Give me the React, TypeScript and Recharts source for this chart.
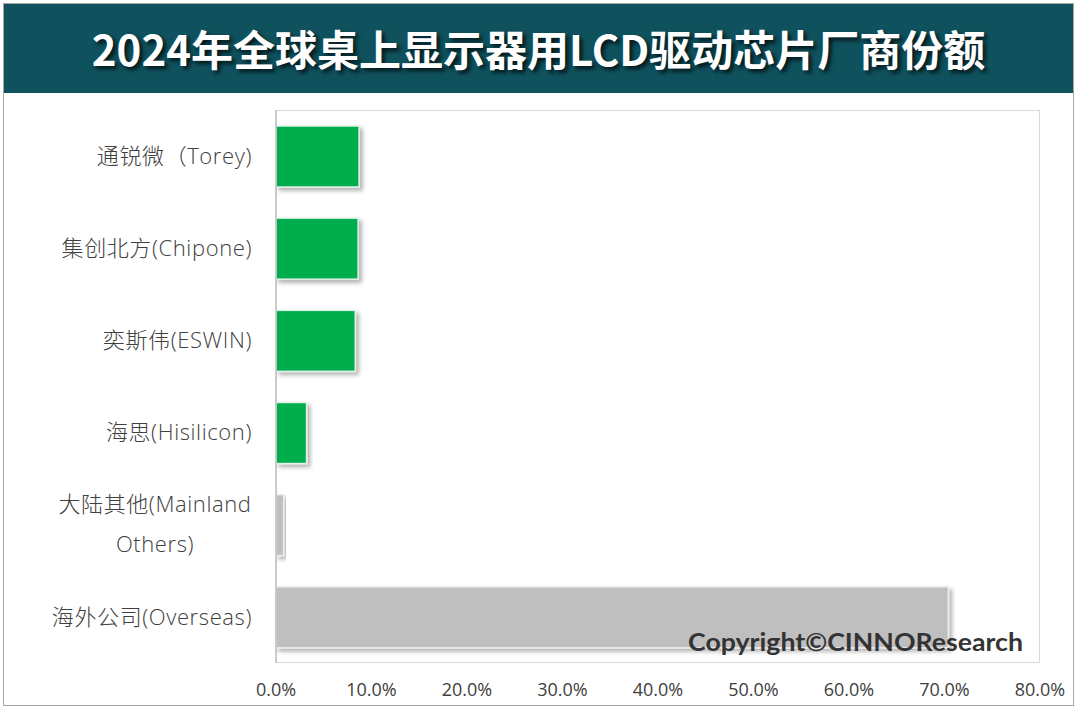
import React from "react";
import { BarChart, Bar, XAxis, YAxis, Cell } from "recharts";

// vendor names (a "\n" breaks a label onto two lines, as in the source)
const vendors = [
  "通锐微（Torey)",
  "集创北方(Chipone)",
  "奕斯伟(ESWIN)",
  "海思(Hisilicon)",
  "大陆其他(Mainland\nOthers)",
  "海外公司(Overseas)",
];
// share of 2024 global desktop monitor LCD driver IC shipments, %
const shares = [8.7, 8.6, 8.3, 3.2, 0.8, 70.4];
// named mainland vendors are highlighted in green, the rest in gray
const highlighted = [true, true, true, true, false, false];
const xTicks = [0, 10, 20, 30, 40, 50, 60, 70, 80];

const TITLE = "2024年全球桌上显示器用LCD驱动芯片厂商份额";
const COPYRIGHT = "Copyright©CINNOResearch";

const GREEN = "#00ad4e";
const GRAY = "#bfbfbf";
const TEXT = "#404040";
const FONT = "'Open Sans', 'Noto Sans CJK SC', sans-serif";

const data = vendors.map((name, i) => ({ name, share: shares[i], hi: highlighted[i] }));

function CategoryTick(props: any) {
  const { x, y, payload } = props;
  const lines = String(payload.value).split("\n");
  const lh = 40;
  const y0 = y - ((lines.length - 1) * lh) / 2;
  const multi = lines.length > 1;
  return (
    <g>
      {lines.map((l, i) => (
        <text
          key={i}
          x={multi ? x - 97 : x}
          y={y0 + i * lh}
          dy="0.35em"
          textAnchor={multi ? "middle" : "end"}
          fill={TEXT}
          fontSize={22}
          fontWeight={300}
          letterSpacing={0.6}
          fontFamily={FONT}
        >
          {l}
        </text>
      ))}
    </g>
  );
}

function ShadowBar(props: any) {
  const { x, y, width, height, fill } = props;
  if (!width || width <= 0) return <g />;
  return (
    <rect
      x={x}
      y={y}
      width={width}
      height={height}
      fill={fill}
      stroke={fill === GREEN ? "#dff2e6" : "#ececec"}
      strokeWidth={1.5}
      filter="url(#barShadow)"
    />
  );
}

export default function App() {
  return (
    <div style={{ position: "absolute", left: 0, top: 0, width: 1080, height: 710, background: "#fff" }}>
      <svg width={0} height={0} style={{ position: "absolute" }}>
        <defs>
          <filter id="barShadow" x="-10%" y="-20%" width="130%" height="150%">
            <feDropShadow dx="3" dy="3" stdDeviation="2" floodColor="#000" floodOpacity="0.3" />
          </filter>
        </defs>
      </svg>

      {/* outer frame */}
      <div
        style={{
          position: "absolute", left: 3, top: 3, width: 1069, height: 701,
          border: "1.5px solid #a6a6a6",
        }}
      />
      {/* title bar */}
      <div
        style={{
          position: "absolute", left: 4, top: 4, width: 1069, height: 89,
          background: "#0f525e", color: "#fff", display: "flex",
          alignItems: "center", justifyContent: "center", paddingBottom: 3, boxSizing: "border-box",
          fontFamily: "'Noto Sans CJK SC', sans-serif", fontWeight: 700, fontSize: 42,
          textShadow: "3px 3px 4px rgba(0,0,0,0.75)",
        }}
      >
        {TITLE}
      </div>
      {/* plot area frame */}
      <div
        style={{
          position: "absolute", left: 276, top: 110, width: 764, height: 553,
          border: "1px solid #d9d9d9", boxSizing: "border-box",
        }}
      />

      <div style={{ position: "absolute", left: 0, top: 0 }}>
        <BarChart
          width={1080}
          height={710}
          data={data}
          layout="vertical"
          margin={{ top: 110, right: 40, bottom: 0, left: 0 }}
          barSize={61}
        >
          <XAxis
            type="number"
            domain={[0, 80]}
            ticks={xTicks}
            height={47}
            axisLine={false}
            tickLine={false}
            tickSize={0}
            tickMargin={20}
            tickFormatter={(v: number) => `${v.toFixed(1)}%`}
            tick={{ fill: TEXT, fontSize: 18, fontFamily: FONT }}
          />
          <YAxis
            type="category"
            dataKey="name"
            width={276}
            axisLine={{ stroke: "#bfbfbf", strokeWidth: 1.5 }}
            tickLine={false}
            tickSize={0}
            tickMargin={24}
            interval={0}
            tick={<CategoryTick />}
          />
          <Bar dataKey="share" shape={<ShadowBar />} isAnimationActive={false}>
            {data.map((d, i) => (
              <Cell key={i} fill={d.hi ? GREEN : GRAY} />
            ))}
          </Bar>
        </BarChart>
      </div>

      <svg width={1080} height={710} style={{ position: "absolute", left: 0, top: 0, pointerEvents: "none" }}>
        <text
          x={688}
          y={651}
          textLength={335}
          lengthAdjust="spacingAndGlyphs"
          fill="#333"
          fontSize={25}
          fontWeight={700}
          fontFamily="Lato, 'Open Sans', sans-serif"
        >
          {COPYRIGHT}
        </text>
      </svg>
    </div>
  );
}
